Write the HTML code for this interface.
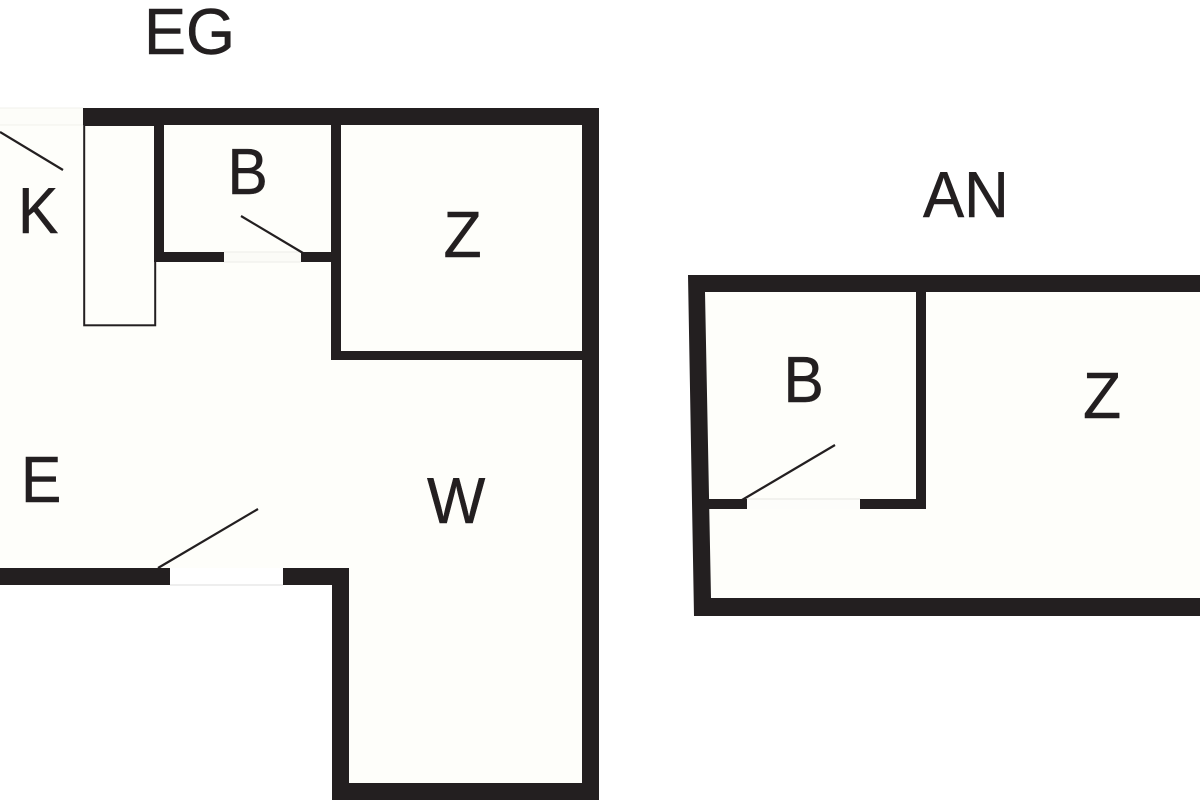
<!DOCTYPE html>
<html>
<head>
<meta charset="utf-8">
<style>
html,body{margin:0;padding:0;background:#fff;}
svg{display:block;}
text{font-family:"Liberation Sans",sans-serif;font-size:65px;fill:#231f20;stroke:#231f20;stroke-width:0.5;}
</style>
</head>
<body>
<svg width="1200" height="800" viewBox="0 0 1200 800" xmlns="http://www.w3.org/2000/svg">
<rect width="1200" height="800" fill="#ffffff"/>
<!-- EG floor -->
<polygon points="0,125 590,125 590,790 340,790 340,576 0,576" fill="#fefefa"/>
<rect x="0" y="108" width="83" height="17" fill="#fdfdf9"/>
<line x1="0" y1="108" x2="83" y2="108" stroke="#f1f1ec" stroke-width="1"/>
<line x1="0" y1="125" x2="83" y2="125" stroke="#f1f1ec" stroke-width="1"/>
<!-- EG walls -->
<g fill="#231f20">
<rect x="83" y="108" width="516" height="17"/>
<rect x="582" y="108" width="17" height="692"/>
<rect x="332" y="783" width="267" height="17"/>
<rect x="332" y="568" width="17" height="232"/>
<rect x="283" y="568" width="66" height="17"/>
<rect x="0" y="568" width="170" height="17"/>
<rect x="154" y="108" width="10" height="154"/>
<rect x="156" y="252" width="68" height="10"/>
<rect x="301" y="252" width="40" height="10"/>
<rect x="331" y="108" width="10" height="252"/>
<rect x="331" y="351" width="260" height="9"/>
</g>
<!-- EG doors -->
<rect x="170" y="568" width="113" height="17" fill="#ffffff"/>
<line x1="170" y1="585" x2="283" y2="585" stroke="#dddddd" stroke-width="1"/>
<rect x="224" y="252" width="77" height="10" fill="#fbfbf7"/>
<line x1="224" y1="252" x2="301" y2="252" stroke="#ecece8" stroke-width="1"/>
<line x1="224" y1="262" x2="301" y2="262" stroke="#ecece8" stroke-width="1"/>
<!-- cupboard -->
<rect x="84.2" y="125" width="71" height="200.3" fill="none" stroke="#231f20" stroke-width="2"/>
<!-- door leaves -->
<g stroke="#231f20" stroke-width="2.2" fill="none">
<line x1="0" y1="132" x2="63" y2="170"/>
<line x1="241" y1="216" x2="303" y2="253"/>
<line x1="158" y1="568" x2="258" y2="509"/>
</g>
<!-- AN floor and walls -->
<polygon points="700,283 1200,283 1200,607 705,607" fill="#fefefa"/>
<path fill="#231f20" fill-rule="evenodd" d="M688,275 L1200,275 L1200,616 L694,616 Z M705,292 L711,598 L1200,598 L1200,292 Z"/>
<g fill="#231f20">
<rect x="916" y="285" width="10" height="224"/>
<rect x="706" y="499" width="41" height="10"/>
<rect x="860" y="499" width="66" height="10"/>
</g>
<rect x="747" y="499" width="113" height="10" fill="#fdfdfa"/>
<line x1="747" y1="499" x2="860" y2="499" stroke="#e6e6e2" stroke-width="1"/>
<line x1="742" y1="500" x2="835" y2="445" stroke="#231f20" stroke-width="2.2"/>
<!-- labels -->
<text transform="translate(144 54) scale(.97 1)">EG</text>
<text transform="translate(18 233) scale(.93 1)">K</text>
<text transform="translate(227.500 194) scale(.93 1)">B</text>
<text transform="translate(443.500 257) scale(.96 1)">Z</text>
<text transform="translate(21 502) scale(.93 1)">E</text>
<text transform="translate(427 523) scale(.95 1)">W</text>
<text transform="translate(923 217) scale(.95 1)">AN</text>
<text transform="translate(783.500 402) scale(.93 1)">B</text>
<text transform="translate(1083 418) scale(.96 1)">Z</text>
</svg>
</body>
</html>
